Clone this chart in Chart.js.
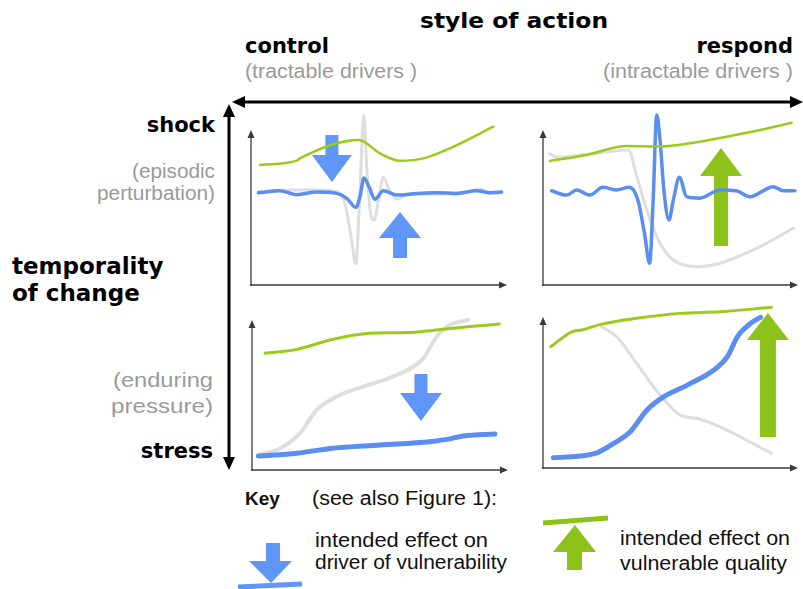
<!DOCTYPE html>
<html><head><meta charset="utf-8">
<script src="https://cdn.jsdelivr.net/npm/chart.js@4/dist/chart.umd.min.js"></script>
<style>
html,body{margin:0;padding:0;background:#fff;}
#wrap{position:relative;width:803px;height:589px;overflow:hidden;background:#fff;}
#wrap canvas{position:absolute;}
#deco{position:absolute;left:0;top:0;}
.b{font-family:"DejaVu Sans";font-weight:bold;fill:#000;}
.g{font-family:"Liberation Sans";fill:#9a9a9a;}
.k{font-family:"Liberation Sans";fill:#111;}
</style></head><body>
<div id="wrap">
<svg id="deco" width="803" height="589">
  <!-- big axes -->
  <line x1="242" y1="102" x2="793" y2="102" stroke="#000" stroke-width="3"/>
  <polygon points="232,102 245,96 245,108" fill="#000"/>
  <polygon points="803,102 790,96 790,108" fill="#000"/>
  <line x1="229" y1="114" x2="229" y2="460" stroke="#000" stroke-width="3"/>
  <polygon points="229,104 223,117 235,117" fill="#000"/>
  <polygon points="229,470 223,457 235,457" fill="#000"/>
  <!-- titles -->
  <text class="b" x="514" y="28" font-size="22" text-anchor="middle" textLength="188" lengthAdjust="spacingAndGlyphs">style of action</text>
  <text class="b" x="245" y="53" font-size="21">control</text>
  <text class="g" x="245" y="78" font-size="20" textLength="172" lengthAdjust="spacingAndGlyphs">(tractable drivers )</text>
  <text class="b" x="793" y="53" font-size="21" text-anchor="end">respond</text>
  <text class="g" x="603" y="78" font-size="20" textLength="190" lengthAdjust="spacingAndGlyphs">(intractable drivers )</text>
  <text class="b" x="215" y="132" font-size="21" text-anchor="end">shock</text>
  <text class="g" x="132" y="178" font-size="20" textLength="83" lengthAdjust="spacingAndGlyphs">(episodic</text>
  <text class="g" x="97" y="200" font-size="20" textLength="118" lengthAdjust="spacingAndGlyphs">perturbation)</text>
  <text class="b" x="12" y="274" font-size="23">temporality</text>
  <text class="b" x="12" y="301" font-size="23">of change</text>
  <text class="g" x="113" y="387" font-size="20" textLength="100" lengthAdjust="spacingAndGlyphs">(enduring</text>
  <text class="g" x="111" y="413" font-size="20" textLength="102" lengthAdjust="spacingAndGlyphs">pressure)</text>
  <text class="b" x="213" y="458" font-size="21" text-anchor="end">stress</text>
  <!-- key -->
  <text class="k" x="245" y="505" font-size="19" font-weight="bold">Key</text>
  <text class="k" x="312" y="505" font-size="20" textLength="185" lengthAdjust="spacingAndGlyphs">(see also Figure 1):</text>
  <polygon points="266,543 280,543 280,561 292,561 271,583 249,561 266,561" fill="#5f96f7"/>
  <line x1="238" y1="587" x2="302" y2="584" stroke="#5f96f7" stroke-width="5"/>
  <text class="k" x="315" y="547" font-size="20" textLength="173" lengthAdjust="spacingAndGlyphs">intended effect on</text>
  <text class="k" x="315" y="569" font-size="20" textLength="192" lengthAdjust="spacingAndGlyphs">driver of vulnerability</text>
  <line x1="543" y1="523" x2="608" y2="518" stroke="#8cc21a" stroke-width="5"/>
  <polygon points="575,525 596,552 582,552 582,570 567,570 567,552 553,552" fill="#8cc21a"/>
  <text class="k" x="620" y="545" font-size="20" textLength="170" lengthAdjust="spacingAndGlyphs">intended effect on</text>
  <text class="k" x="620" y="570" font-size="20" textLength="167" lengthAdjust="spacingAndGlyphs">vulnerable quality</text>
</svg>
<canvas id="tl"></canvas>
<canvas id="tr"></canvas>
<canvas id="bl"></canvas>
<canvas id="br"></canvas>
</div>
<script>
// ---- data (x: 0..100 along time axis, y: 0..100 up the value axis) ----
// top-left: shock / control
const tlGreenX = [3.5, 17.8, 19.1, 42.2, 50.4, 58.2, 67.3, 77.7, 94.7];
const tlGreenY = [77.4, 80.2, 81.7, 93.5, 84.9, 80.2, 81.7, 88.2, 102.1];
const tlBlueX = [2.9, 11.3, 17.8, 25.7, 33.5, 37.4, 41, 42.6, 44.1, 46.2, 48.4, 51.7, 56.9, 64.7, 72.5, 80.3, 88.2, 93.4, 97.9];
const tlBlueY = [59.5, 60.8, 58.3, 60, 59.1, 55.9, 50.1, 57.2, 69, 63, 55.3, 60.8, 58, 59.1, 59.5, 59.1, 60.8, 59.5, 60];
const tlGrayX = [2.9, 23, 33.5, 36.7, 39.3, 41, 42.4, 44.1, 45.2, 46.5, 48.1, 49.8, 51.7, 54, 56.9, 60.8, 69.9, 82.9, 89.4, 93.4, 97.9];
const tlGrayY = [60.3, 61.5, 60.3, 52.7, 29, 13.5, 54.8, 109.7, 76.3, 48.4, 41.9, 54.8, 69.5, 61.3, 55.3, 58, 58.7, 59.1, 62, 59.1, 59.5];
// top-right: shock / respond
const trGreenX = [2.7, 17.1, 32.8, 45.9, 58.9, 72, 85.1, 97.5];
const trGreenY = [80, 83.9, 89.7, 89.3, 91.8, 95.7, 100, 104.7];
const trBlueX = [3.4, 9.3, 13.2, 18.3, 23.5, 28.7, 33.8, 37.2, 39.8, 41.8, 43.2, 44.6, 45.9, 47.4, 49.4, 51.1, 53.5, 56.3, 61.5, 69.4, 75.9, 81.1, 90.3, 94.2, 98.8];
const trBlueY = [60.8, 58, 61.3, 58, 63, 61.3, 63, 54.8, 33.3, 14, 54.8, 109.7, 93.5, 61.3, 41.9, 54.8, 69.5, 57, 56, 61.3, 60.8, 57, 63.4, 60.8, 60.8];
const trGrayX = [2.5, 5.4, 17.1, 33.5, 36.8, 40.7, 45.9, 51.1, 60.3, 69.4, 82.5, 98.2];
const trGrayY = [84.9, 82.3, 84.3, 87.1, 69.9, 48.4, 26.9, 16.1, 11.8, 14, 22.6, 36.6];
// bottom-left: stress / control
const blGreenX = [5.1, 17.5, 30.5, 46.1, 60.4, 74.7, 85.1, 96.6];
const blGreenY = [77.8, 80.4, 86.7, 91.1, 91.6, 93.8, 95.6, 97.3];
const blBlueX = [2.5, 17.5, 30.5, 50.1, 69.5, 76, 82.5, 94.9];
const blBlueY = [9.3, 11.1, 14.4, 16.7, 18.9, 20.4, 22.7, 24];
const blGrayX = [2.5, 10.9, 18.7, 25.2, 33, 43.4, 56.5, 66.9, 72.1, 77.3, 84.5];
const blGrayY = [10, 14.4, 24.4, 40, 48.9, 55.6, 63.3, 74.4, 88.9, 96.7, 100];
// bottom-right: stress / respond
const brGreenX = [3, 11.3, 15.2, 23, 36.7, 53.7, 69.4, 89.6];
const brGreenY = [80.3, 90.2, 91.4, 95.3, 99.1, 102.4, 103.5, 106.4];
const brBlueX = [4.1, 20.5, 27.7, 34.2, 40.8, 47.4, 56.6, 67, 72.3, 76.2, 81.4, 85.3];
const brBlueY = [6.8, 9.7, 16.3, 24, 38.4, 47.2, 54.9, 64.9, 73.7, 86.9, 95.8, 99.8];
const brGrayX = [23, 28.9, 36.7, 45.9, 53.7, 60.2, 69.4, 79.8, 89.6];
const brGrayY = [93.5, 86.9, 69.3, 48.3, 35.1, 32.9, 27.3, 18.5, 9.7];

// ---- styling / layout ----
const GREEN = '#99cc1a', BLUE = '#5b8ef0', GRAY = '#dedede';
const ARROW_BLUE = '#5f96f7', ARROW_GREEN = '#8cc21a';

function pts(xs, ys){ return xs.map((v,i)=>({x:v, y:ys[i]})); }

function drawBlockArrow(ctx, xs, ys, a){
  const cx = xs.getPixelForValue(a.x);
  const tail = ys.getPixelForValue(a.tail), base = ys.getPixelForValue(a.base), tip = ys.getPixelForValue(a.tip);
  ctx.save();
  ctx.fillStyle = a.color;
  ctx.beginPath();
  ctx.moveTo(cx - a.shaft, tail);
  ctx.lineTo(cx + a.shaft, tail);
  ctx.lineTo(cx + a.shaft, base);
  ctx.lineTo(cx + a.head, base);
  ctx.lineTo(cx, tip);
  ctx.lineTo(cx - a.head, base);
  ctx.lineTo(cx - a.shaft, base);
  ctx.closePath();
  ctx.fill();
  ctx.restore();
}

const panelDeco = {
  id: 'panelDeco',
  beforeDatasetsDraw(chart, args, opts){
    const ctx = chart.ctx, xs = chart.scales.x, ys = chart.scales.y;
    const x0 = xs.getPixelForValue(0), x1 = xs.getPixelForValue(100);
    const y0 = ys.getPixelForValue(0), y1 = ys.getPixelForValue(100);
    ctx.save();
    ctx.strokeStyle = '#3a3a3a'; ctx.fillStyle = '#3a3a3a'; ctx.lineWidth = 1.3;
    ctx.beginPath();
    ctx.moveTo(x0, y0 + 1); ctx.lineTo(x0, y1 + 6);
    ctx.moveTo(x0 - 1, y0); ctx.lineTo(x1 - 6, y0);
    ctx.stroke();
    ctx.beginPath();
    ctx.moveTo(x0, y1); ctx.lineTo(x0 - 3.5, y1 + 8); ctx.lineTo(x0 + 3.5, y1 + 8); ctx.closePath();
    ctx.moveTo(x1, y0); ctx.lineTo(x1 - 8, y0 - 3.5); ctx.lineTo(x1 - 8, y0 + 3.5); ctx.closePath();
    ctx.fill();
    ctx.restore();
    (opts.arrows || []).filter(a => !a.front).forEach(a => drawBlockArrow(ctx, xs, ys, a));
  },
  afterDatasetsDraw(chart, args, opts){
    (opts.arrows || []).filter(a => a.front).forEach(a => drawBlockArrow(chart.ctx, chart.scales.x, chart.scales.y, a));
  }
};

function makePanel(id, ax, series, widths, arrows){
  // ax = [x px of value 0, x px of value 100, y px of value 0, y px of value 100]
  const left = ax[0] - 12, right = ax[1] + 5, top = ax[3] - 25, bottom = ax[2] + 8;
  const cv = document.getElementById(id);
  cv.width = right - left; cv.height = bottom - top;
  cv.style.left = left + 'px'; cv.style.top = top + 'px';
  cv.style.width = (right - left) + 'px'; cv.style.height = (bottom - top) + 'px';
  const px = (ax[1] - ax[0]) / 100, py = (ax[2] - ax[3]) / 100;
  const mk = (data, color, w, order) => ({
    data, borderColor: color, borderWidth: w, pointRadius: 0, fill: false,
    cubicInterpolationMode: 'monotone', borderCapStyle: 'round', borderJoinStyle: 'round', order
  });
  new Chart(cv, {
    type: 'line',
    data: { datasets: [
      mk(series.green, GREEN, widths[0], 0),
      mk(series.blue, BLUE, widths[1], 1),
      mk(series.gray, GRAY, widths[2], 2)
    ]},
    options: {
      responsive: false, animation: false, events: [],
      layout: { padding: 0, autoPadding: false },
      scales: {
        x: { type: 'linear', display: false, min: (left - ax[0]) / px, max: (right - ax[0]) / px },
        y: { type: 'linear', display: false, min: (ax[2] - bottom) / py, max: (ax[2] - top) / py }
      },
      plugins: { legend: { display: false }, tooltip: { enabled: false }, panelDeco: { arrows } }
    },
    plugins: [panelDeco]
  });
}

makePanel('tl', [251, 507, 285, 130],
  { green: pts(tlGreenX, tlGreenY), blue: pts(tlBlueX, tlBlueY), gray: pts(tlGrayX, tlGrayY) },
  [2.5, 3.5, 3],
  [ { x: 31.6, tail: 96.8, base: 83.9, tip: 66.5, head: 20, shaft: 6.5, color: ARROW_BLUE },
    { x: 58.2, tail: 17.4, base: 30.3, tip: 47.1, head: 21, shaft: 7, color: ARROW_BLUE } ]);
makePanel('tr', [543, 798, 285, 130],
  { green: pts(trGreenX, trGreenY), blue: pts(trBlueX, trBlueY), gray: pts(trGrayX, trGrayY) },
  [2.5, 3.5, 3],
  [ { x: 69.8, tail: 25.2, base: 70.3, tip: 88.4, head: 21, shaft: 7, color: ARROW_GREEN } ]);
makePanel('bl', [252, 508, 470, 320],
  { green: pts(blGreenX, blGreenY), blue: pts(blBlueX, blBlueY), gray: pts(blGrayX, blGrayY) },
  [3, 5, 4],
  [ { x: 66, tail: 64, base: 51.3, tip: 32.7, head: 21, shaft: 6.5, color: ARROW_BLUE } ]);
makePanel('br', [543, 798, 468, 317],
  { green: pts(brGreenX, brGreenY), blue: pts(brBlueX, brBlueY), gray: pts(brGrayX, brGrayY) },
  [3, 5, 3],
  [ { x: 88.2, tail: 20.5, base: 84.8, tip: 102.6, head: 21, shaft: 8, color: ARROW_GREEN, front: true } ]);
</script>
</body></html>
